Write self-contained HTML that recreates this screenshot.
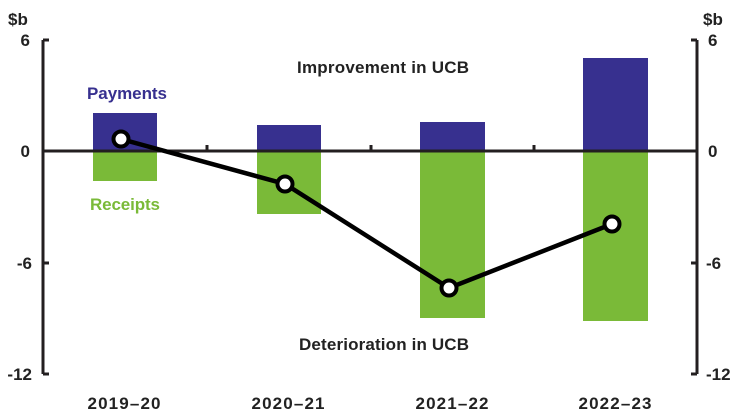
<!DOCTYPE html><html><head><style>body{margin:0;background:#fff}svg{display:block}text{font-family:"Liberation Sans",sans-serif;font-weight:bold;fill:#222}</style></head><body>
<svg width="741" height="417" viewBox="0 0 741 417">
<g fill="#37308f"><rect x="93" y="113" width="64" height="38"/><rect x="257" y="125" width="64" height="26"/><rect x="420" y="122" width="65" height="29"/><rect x="583" y="58" width="65" height="93"/></g>
<g fill="#7aba38"><rect x="93" y="151" width="64" height="30"/><rect x="257" y="151" width="64" height="63"/><rect x="420" y="151" width="65" height="167"/><rect x="583" y="151" width="65" height="170"/></g>
<g stroke="#231f20" stroke-width="3" fill="none">
<path d="M43 40V374M697 40V374"/><path d="M43 40h6M43 151h6M43 263h6M43 374h6M697 40h-6M697 151h-6M697 263h-6M697 374h-6"/>
<path d="M43 151H697"/><path d="M207 151v-6M371 151v-6M534 151v-6"/>
<polyline points="121,139 285,184 449,288 612,224" stroke="#000" stroke-width="4.5"/>
</g>
<g fill="#fff" stroke="#000" stroke-width="4"><circle cx="121" cy="139" r="7.5"/><circle cx="285" cy="184" r="7.5"/><circle cx="449" cy="288" r="7.5"/><circle cx="612" cy="224" r="7.5"/></g>
<g font-size="17"><text x="8" y="25">$b</text><text x="703" y="25">$b</text>
<text x="30" y="46" text-anchor="end">6</text><text x="30" y="157" text-anchor="end">0</text><text x="32" y="269" text-anchor="end">-6</text><text x="32" y="380" text-anchor="end">-12</text>
<text x="708" y="46">6</text><text x="708" y="157">0</text><text x="706" y="269">-6</text><text x="706" y="380">-12</text>
<text x="124" y="409" text-anchor="middle" textLength="73">2019–20</text><text x="288" y="409" text-anchor="middle" textLength="73">2020–21</text><text x="452" y="409" text-anchor="middle" textLength="73">2021–22</text><text x="615" y="409" text-anchor="middle" textLength="73">2022–23</text>
<text x="383" y="73" text-anchor="middle" textLength="172">Improvement in UCB</text><text x="384" y="350" text-anchor="middle" textLength="170">Deterioration in UCB</text>
<text x="127" y="99" text-anchor="middle" style="fill:#37308f" textLength="80">Payments</text><text x="125" y="210" text-anchor="middle" style="fill:#7aba38" textLength="70">Receipts</text></g>
</svg></body></html>
